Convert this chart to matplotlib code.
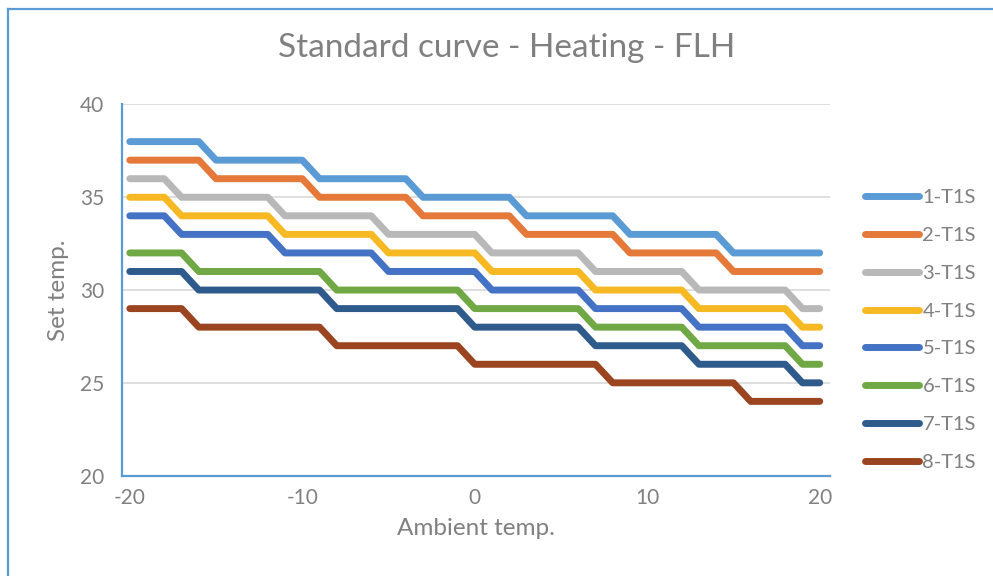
"""
Standard heating curve (FLH): set temperature vs. ambient temperature
for the eight T1S curves.
"""

import matplotlib
matplotlib.use("Agg")
import matplotlib.pyplot as plt
from matplotlib.lines import Line2D

plt.rcParams["font.family"] = ["Lato", "DejaVu Sans"]
plt.rcParams["axes.unicode_minus"] = False

# Ambient temperature points (°C)
ambient = list(range(-20, 21))

# Set temperature for each curve, one value per ambient point
t1s_1 = [38, 38, 38, 38, 38, 37, 37, 37, 37, 37, 37, 36, 36, 36, 36, 36, 36,
         35, 35, 35, 35, 35, 35, 34, 34, 34, 34, 34, 34, 33, 33, 33, 33, 33,
         33, 32, 32, 32, 32, 32, 32]
t1s_2 = [37, 37, 37, 37, 37, 36, 36, 36, 36, 36, 36, 35, 35, 35, 35, 35, 35,
         34, 34, 34, 34, 34, 34, 33, 33, 33, 33, 33, 33, 32, 32, 32, 32, 32,
         32, 31, 31, 31, 31, 31, 31]
t1s_3 = [36, 36, 36, 35, 35, 35, 35, 35, 35, 34, 34, 34, 34, 34, 34, 33, 33,
         33, 33, 33, 33, 32, 32, 32, 32, 32, 32, 31, 31, 31, 31, 31, 31, 30,
         30, 30, 30, 30, 30, 29, 29]
t1s_4 = [35, 35, 35, 34, 34, 34, 34, 34, 34, 33, 33, 33, 33, 33, 33, 32, 32,
         32, 32, 32, 32, 31, 31, 31, 31, 31, 31, 30, 30, 30, 30, 30, 30, 29,
         29, 29, 29, 29, 29, 28, 28]
t1s_5 = [34, 34, 34, 33, 33, 33, 33, 33, 33, 32, 32, 32, 32, 32, 32, 31, 31,
         31, 31, 31, 31, 30, 30, 30, 30, 30, 30, 29, 29, 29, 29, 29, 29, 28,
         28, 28, 28, 28, 28, 27, 27]
t1s_6 = [32, 32, 32, 32, 31, 31, 31, 31, 31, 31, 31, 31, 30, 30, 30, 30, 30,
         30, 30, 30, 29, 29, 29, 29, 29, 29, 29, 28, 28, 28, 28, 28, 28, 27,
         27, 27, 27, 27, 27, 26, 26]
t1s_7 = [31, 31, 31, 31, 30, 30, 30, 30, 30, 30, 30, 30, 29, 29, 29, 29, 29,
         29, 29, 29, 28, 28, 28, 28, 28, 28, 28, 27, 27, 27, 27, 27, 27, 26,
         26, 26, 26, 26, 26, 25, 25]
t1s_8 = [29, 29, 29, 29, 28, 28, 28, 28, 28, 28, 28, 28, 27, 27, 27, 27, 27,
         27, 27, 27, 26, 26, 26, 26, 26, 26, 26, 26, 25, 25, 25, 25, 25, 25,
         25, 25, 24, 24, 24, 24, 24]

series = [t1s_1, t1s_2, t1s_3, t1s_4, t1s_5, t1s_6, t1s_7, t1s_8]
labels = ["1-T1S", "2-T1S", "3-T1S", "4-T1S", "5-T1S", "6-T1S", "7-T1S", "8-T1S"]
colors = ["#5B9BD5", "#E5793A", "#B8B8B8", "#F6B923",
          "#4472C4", "#70A845", "#2F5B8C", "#9A4520"]

TEXT_GRAY = "#808080"
AXIS_BLUE = "#5B9BD5"

fig = plt.figure(figsize=(9.93, 5.76), dpi=100)
ax = fig.add_axes([0.1229, 0.1743, 0.8359 - 0.1229, 0.8186 - 0.1743])

for vals, lab, col in zip(series, labels, colors):
    ax.plot(ambient, vals, color=col, lw=5, label=lab,
            solid_capstyle="round", solid_joinstyle="round")

ax.set_xlim(-20.45, 20.6)
ax.set_ylim(20, 40)
ax.set_xticks([-20, -10, 0, 10, 20])
ax.set_yticks([20, 25, 30, 35, 40])

# Excel-like axes: blue left/bottom spines, light grey gridlines
for side in ("top", "right"):
    ax.spines[side].set_visible(False)
for side in ("left", "bottom"):
    ax.spines[side].set_color(AXIS_BLUE)
    ax.spines[side].set_linewidth(1.6)
ax.yaxis.grid(True, color="#D9D9D9", lw=1.2)
ax.set_axisbelow(True)
ax.tick_params(length=0, labelsize=15, colors=TEXT_GRAY)
ax.tick_params(axis="y", pad=13)
ax.tick_params(axis="x", pad=9)

ax.set_xlabel("Ambient temp.", fontsize=17.5, color=TEXT_GRAY, labelpad=7)
ax.set_ylabel("Set temp.", fontsize=17.5, color=TEXT_GRAY, labelpad=8)

fig.text(0.51, 0.917, "Standard curve - Heating - FLH", ha="center", va="center",
         fontsize=24, color="#808080")

fig.legend(loc="upper left", bbox_to_anchor=(865 / 993, 1 - 189 / 576),
           frameon=False, fontsize=14.5, handlelength=2.7, handletextpad=0.15,
           labelspacing=1.03, borderaxespad=0, borderpad=0,
           labelcolor=TEXT_GRAY)

# Chart area outline (left and top edges visible in the crop)
fig.add_artist(Line2D([7.5 / 993, 7.5 / 993], [0, 1 - 8.5 / 576],
                      color=AXIS_BLUE, lw=1.6))
fig.add_artist(Line2D([7.5 / 993, 1], [1 - 8.5 / 576, 1 - 8.5 / 576],
                      color=AXIS_BLUE, lw=1.6))

fig.savefig("out.png", dpi=100, facecolor="white")
plt.close()
